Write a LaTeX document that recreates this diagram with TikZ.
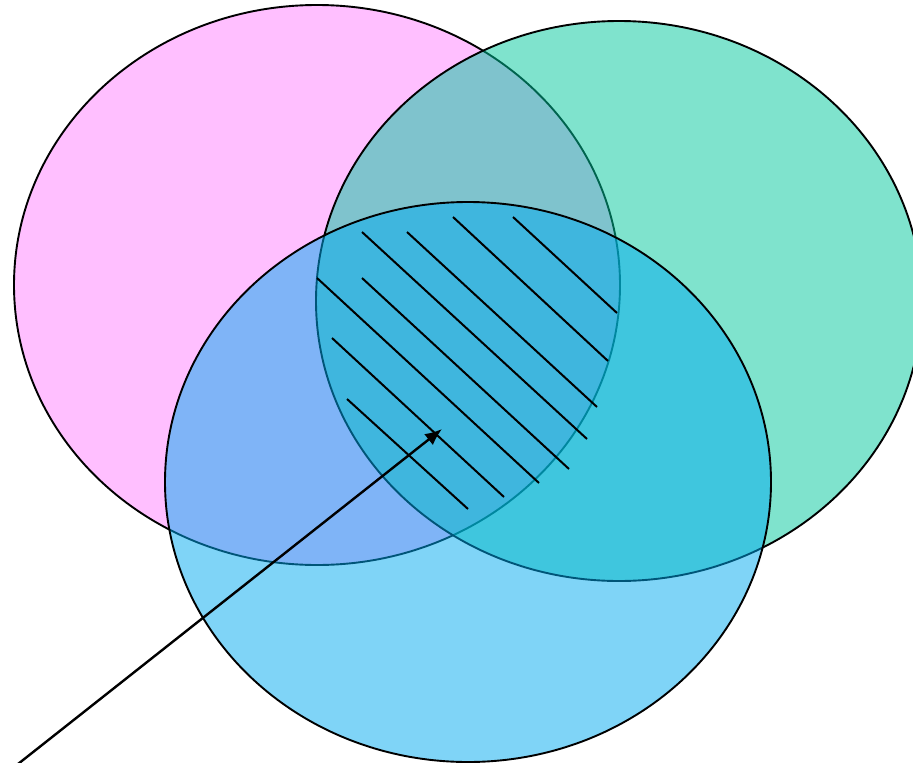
\documentclass[tikz,border=0pt]{standalone}
\usetikzlibrary{arrows.meta}
\definecolor{pinkc}{RGB}{255,128,255}
\definecolor{greenc}{RGB}{0,200,157}
\definecolor{bluec}{RGB}{0,170,240}
\tikzset{
  setshape/.style={draw=black, line width=1.9pt, fill opacity=0.5},
  hatchline/.style={draw=black, line width=2pt},
  pointer/.style={draw=black, line width=2.4pt, -{Latex[length=17pt,width=14pt]}}
}
\begin{document}
\begin{tikzpicture}[x=1pt,y=-1pt]
\useasboundingbox (0,0) rectangle (913,763);
\begin{scope}
\clip (0,0) rectangle (913,763);
\fill[white] (0,0) rectangle (913,763);
\path[setshape, fill=pinkc] (317,285) ellipse [x radius=303pt, y radius=280pt];
\path[setshape, fill=greenc] (619,301) ellipse [x radius=303pt, y radius=280pt];
\path[setshape, fill=bluec] (468,482) ellipse [x radius=303pt, y radius=280pt];
\end{scope}
% hatching
\coordinate (a1) at (513,217); \coordinate (a2) at (617,313);
\coordinate (b1) at (453,217); \coordinate (b2) at (608,361);
\coordinate (c1) at (407,232); \coordinate (c2) at (597,407);
\coordinate (d1) at (362,232); \coordinate (d2) at (587,439);
\coordinate (e1) at (362,278); \coordinate (e2) at (569,469);
\coordinate (f1) at (317,278); \coordinate (f2) at (539,483);
\coordinate (g1) at (332,338); \coordinate (g2) at (504,497);
\coordinate (h1) at (347,399); \coordinate (h2) at (468,509);
\draw[hatchline] (a1) -- (a2);
\draw[hatchline] (b1) -- (b2);
\draw[hatchline] (c1) -- (c2);
\draw[hatchline] (d1) -- (d2);
\draw[hatchline] (e1) -- (e2);
\draw[hatchline] (f1) -- (f2);
\draw[hatchline] (g1) -- (g2);
\draw[hatchline] (h1) -- (h2);
% arrow
\coordinate (tail) at (18,764);
\coordinate (tip) at (442,429);
\draw[pointer] (tail) -- (tip);
\end{tikzpicture}
\end{document}
